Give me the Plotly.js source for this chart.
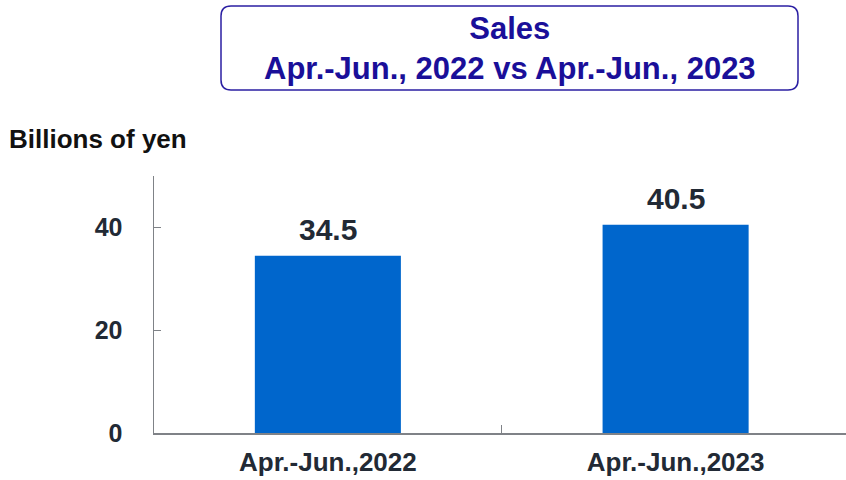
<!DOCTYPE html>
<html>
<head>
<meta charset="utf-8">
<script src="https://cdn.plot.ly/plotly-3.0.1.min.js"></script>
<style>html,body{margin:0;padding:0;background:#fff;}#chart{width:846px;height:480px;}</style>
</head>
<body>
<div id="chart"></div>
<script>
const categories = ["Apr.-Jun.,2022", "Apr.-Jun.,2023"];
const sales = [34.5, 40.5];
const yTicks = [0, 20, 40];
const titleLines = ["Sales", "Apr.-Jun., 2022 vs Apr.-Jun., 2023"];
const unitLabel = "Billions of yen";

const FONT = "Liberation Sans, Arial, sans-serif";
const W = 846, H = 480;
const L = 154, R = 0, T = 176, B = 47;
const pw = W - L - R, ph = H - T - B;
const px2x = p => (p - L) / pw;
const py2y = p => (H - B - p) / ph;

// rounded title box
const bx0 = px2x(221), bx1 = px2x(798), by0 = py2y(90), by1 = py2y(6);
const rx = 10 / pw, ry = 10 / ph;
const boxPath = `M ${bx0+rx},${by1} L ${bx1-rx},${by1} Q ${bx1},${by1} ${bx1},${by1-ry} ` +
  `L ${bx1},${by0+ry} Q ${bx1},${by0} ${bx1-rx},${by0} L ${bx0+rx},${by0} ` +
  `Q ${bx0},${by0} ${bx0},${by0+ry} L ${bx0},${by1-ry} Q ${bx0},${by1} ${bx0+rx},${by1} Z`;

const valueAnnots = categories.map((c, i) => ({
  x: c, y: sales[i], xref: "x", yref: "y",
  text: sales[i].toFixed(1), showarrow: false,
  yanchor: "bottom", yshift: 8,
  font: {family: FONT, size: 30, color: "#222a35", weight: "bold"}
}));

const data = [{
  type: "bar",
  x: categories,
  y: sales,
  marker: {color: "#0066CC"},
  width: 0.42,
  hoverinfo: "none"
}];

const layout = {
  width: W, height: H,
  margin: {l: L, r: R, t: T, b: B, pad: 0},
  paper_bgcolor: "#fff", plot_bgcolor: "#fff",
  showlegend: false,
  font: {family: FONT, color: "#222a35"},
  xaxis: {
    type: "category",
    range: [-0.5, 1.49],
    showline: true, linecolor: "#7f8287", linewidth: 1.5,
    ticks: "inside", tickson: "boundaries", ticklen: 8, tickcolor: "#7f8287", tickwidth: 1.5,
    showgrid: false, zeroline: false,
    tickfont: {family: FONT, size: 26, color: "#222a35", weight: "bold"},
    ticklabelstandoff: 5,
    fixedrange: true
  },
  yaxis: {
    range: [0, 50],
    tickvals: yTicks,
    ticktext: yTicks.map(String),
    showline: true, linecolor: "#7f8287", linewidth: 1.5,
    ticks: "inside", ticklen: 7, tickcolor: "#7f8287", tickwidth: 1,
    showgrid: false, zeroline: false,
    tickfont: {family: FONT, size: 25, color: "#222a35", weight: "bold"},
    ticklabelstandoff: 25,
    fixedrange: true
  },
  shapes: [{
    type: "path", xref: "paper", yref: "paper", path: boxPath,
    line: {color: "#2b1fa3", width: 1.5}, fillcolor: "rgba(0,0,0,0)"
  }],
  annotations: valueAnnots.concat([{
    xref: "paper", yref: "paper",
    x: px2x(7), y: py2y(139), xanchor: "left", yanchor: "middle",
    text: "<b>" + unitLabel + "</b>", showarrow: false,
    font: {family: FONT, size: 26, color: "#111111"}
  }, {
    xref: "paper", yref: "paper",
    x: px2x(510), y: py2y(48), xanchor: "center", yanchor: "middle",
    text: "<b>" + titleLines.join("<br>") + "</b>", showarrow: false,
    font: {family: FONT, size: 31, color: "#1a0f99"}
  }])
};

Plotly.newPlot("chart", data, layout, {displayModeBar: false, staticPlot: true});
</script>
</body>
</html>
